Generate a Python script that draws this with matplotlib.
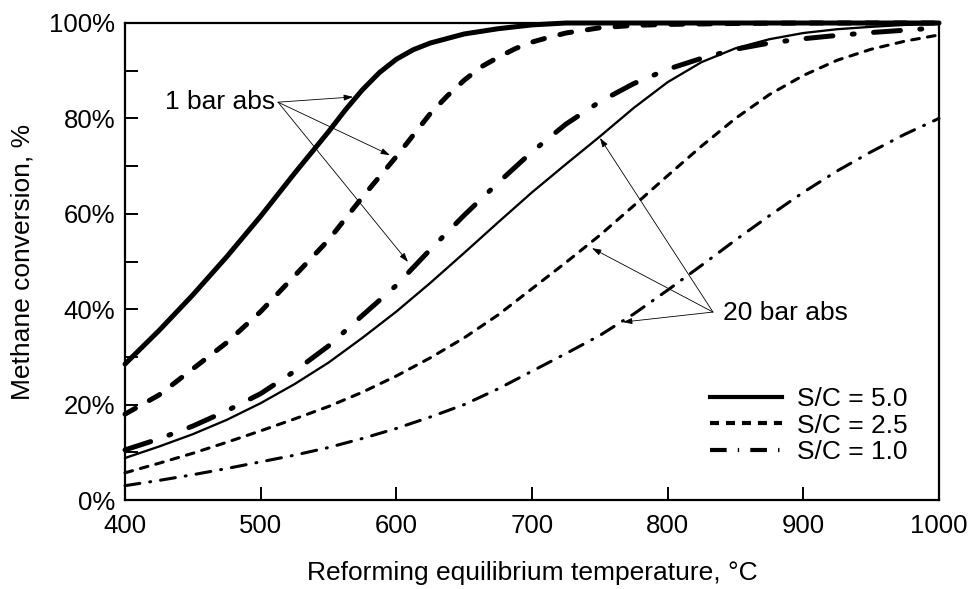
import numpy as np

import matplotlib
matplotlib.use('Agg')
import matplotlib.pyplot as plt
from matplotlib.lines import Line2D
from matplotlib.ticker import MultipleLocator, PercentFormatter

"""
Methane conversion vs reforming temperature (values read off the figure)
"""

temps = [400, 425, 450, 475, 500, 525, 550, 575, 600, 625, 650, 675, 700,
         725, 750, 775, 800, 825, 850, 875, 900, 925, 950, 975, 1000]

# 1 bar abs
temps_1bar_sc50 = [400, 425, 450, 475, 500, 525, 550, 562.5, 575, 587.5, 600, 612.5,
                   625, 650, 675, 700, 725, 800, 900, 1000]
bar1_sc50 = [28.5, 35.5, 43, 51, 59.5, 68.5, 77.2, 81.8, 86, 89.6, 92.4, 94.4,
             95.8, 97.7, 98.8, 99.6, 100, 100, 100, 100]
temps_1bar_sc25 = [400, 425, 450, 475, 500, 525, 550, 575, 600, 625, 637.5, 650,
                   662.5, 675, 687.5, 700, 712.5, 725, 750, 775, 800, 850, 900, 1000]
bar1_sc25 = [18, 22, 27.5, 33, 39.5, 47, 54.5, 63.5, 72, 81, 84.7, 88,
             90.8, 92.8, 94.6, 96, 97, 97.9, 99, 99.5, 99.7, 99.9, 100, 100]
bar1_sc10 = [10.5, 12.8, 15.5, 18.7, 22.3, 27, 32.3, 38.7, 45, 52.5, 59.7, 66.5, 73,
             78.8, 83.5, 87.3, 90.3, 92.6, 94.5, 95.8, 96.7, 97.4, 98, 98.5, 99]

# 20 bar abs
bar20_sc50 = [8.8, 11.2, 13.8, 16.8, 20.3, 24.3, 28.8, 34, 39.5, 45.5, 51.8, 58.2, 64.5,
              70.4, 76.2, 82.2, 87.6, 91.8, 94.7, 96.6, 97.9, 98.7, 99.2, 99.6, 99.8]
bar20_sc25 = [5.7, 7.7, 9.8, 12.1, 14.5, 17, 19.6, 22.6, 26, 29.8, 34, 38.8, 44.3,
              49.8, 55.5, 61.7, 68, 74.2, 80, 85, 89, 92.2, 94.5, 96.2, 97.5]
bar20_sc10 = [3, 4.1, 5.3, 6.6, 8, 9.4, 11, 12.9, 15, 17.4, 20, 23.3, 27,
              30.7, 34.5, 39, 44, 49.2, 54.5, 59.6, 64.5, 69, 73, 76.7, 80]

legend_labels = ['S/C = 5.0', 'S/C = 2.5', 'S/C = 1.0']

# dash patterns in points (scale_dashes off)
DASH = (8.6, 11.5)
DASHDOT = (19.4, 14, 1.4, 14)
THIN_DASH = (5.6, 5.9)
THIN_DASHDOT = (10.8, 7.2, 0.7, 7.2)

plt.rcParams['font.family'] = ['Liberation Sans', 'DejaVu Sans']
plt.rcParams['lines.scale_dashes'] = False


def plot_curve(ax, xs, ys, lw, dashes=None):
    line, = ax.plot(xs, ys, color='black', lw=lw, clip_on=False,
                    solid_capstyle='round', dash_capstyle='round',
                    solid_joinstyle='round')
    if dashes is not None:
        line.set_dashes(dashes)
    return line


def arrow(ax, start, end):
    ax.annotate('', xy=end, xytext=start,
                arrowprops=dict(arrowstyle='-|>,head_length=0.55,head_width=0.18',
                                color='black', lw=0.6, shrinkA=0, shrinkB=0))


fig = plt.figure(figsize=(9.7, 5.89), dpi=100)
ax = fig.add_axes([125/970, 1-500/589, 814/970, 477/589])

plot_curve(ax, temps_1bar_sc50, bar1_sc50, 3.6)
plot_curve(ax, temps_1bar_sc25, bar1_sc25, 3.6, DASH)
plot_curve(ax, temps, bar1_sc10, 3.6, DASHDOT)
plot_curve(ax, temps, bar20_sc50, 1.65)
plot_curve(ax, temps, bar20_sc25, 2.2, THIN_DASH)
plot_curve(ax, temps, bar20_sc10, 2.2, THIN_DASHDOT)

ax.set_xlim(400, 1000)
ax.set_ylim(0, 100)
ax.xaxis.set_major_locator(MultipleLocator(100))
ax.yaxis.set_major_locator(MultipleLocator(20))
ax.yaxis.set_minor_locator(MultipleLocator(10))
ax.yaxis.set_major_formatter(PercentFormatter(decimals=0))
ax.tick_params(which='both', direction='in', length=9.4, width=1.4,
               labelsize=18.5, top=False, right=False)
ax.tick_params(axis='x', pad=10)
ax.tick_params(axis='y', pad=7)
for sp in ax.spines.values():
    sp.set_linewidth(1.6)

ax.set_xlabel('Reforming equilibrium temperature, °C', fontsize=19)
ax.set_ylabel('Methane conversion, %', fontsize=19)
ax.xaxis.set_label_coords(0.5, -0.128)
ax.yaxis.set_label_coords(-0.111, 0.5)

# annotations
ax.text(510.5, 83.4, '1 bar abs', fontsize=19, ha='right', va='center')
for tip in [(568.1, 84.5), (595.3, 72.3), (608.6, 49.9)]:
    arrow(ax, (512.8, 83.4), tip)

ax.text(840.8, 39.2, '20 bar abs', fontsize=19, ha='left', va='center')
for tip in [(750.1, 75.9), (744.2, 52.8), (767.0, 37.3)]:
    arrow(ax, (833.4, 39.4), tip)

handles = [
    Line2D([], [], color='black', lw=3),
    Line2D([], [], color='black', lw=3, dashes=(6.5, 5)),
    Line2D([], [], color='black', lw=3, dashes=(12, 8, 1, 8)),
]
ax.legend(handles, legend_labels, loc='lower right', bbox_to_anchor=(0.962, 0.075),
          frameon=False, fontsize=19, handlelength=2.7, handletextpad=0.6,
          labelspacing=0.1, borderpad=0, borderaxespad=0)

fig.savefig('out.png', dpi=100)
plt.close(fig)
